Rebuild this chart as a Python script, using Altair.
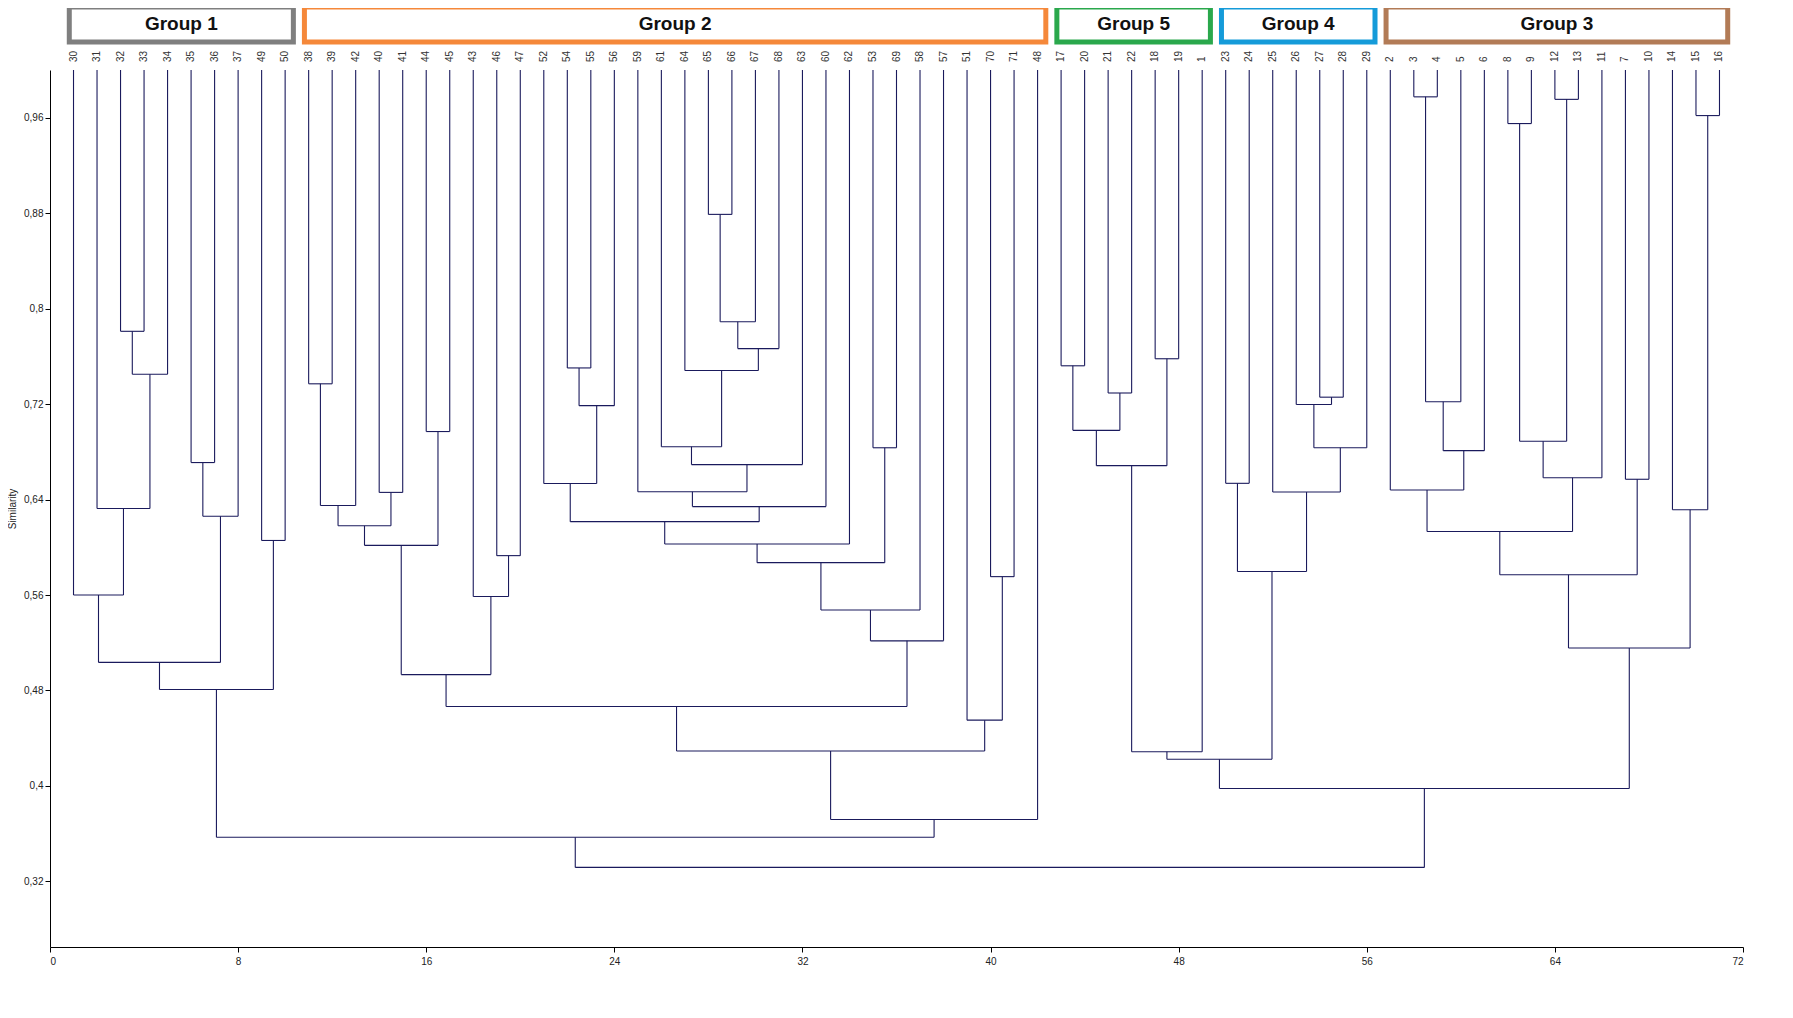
import altair as alt
import pandas as pd

# ---- data ----
leaf_order = ["30", "31", "32", "33", "34", "35", "36", "37", "49", "50",
              "38", "39", "42", "40", "41", "44", "45", "43", "46", "47",
              "52", "54", "55", "56", "59", "61", "64", "65", "66", "67",
              "68", "63", "60", "62", "53", "69", "58", "57", "51", "70",
              "71", "48",
              "17", "20", "21", "22", "18", "19", "1",
              "23", "24", "25", "26", "27", "28", "29",
              "2", "3", "4", "5", "6", "8", "9", "12", "13", "11", "7", "10",
              "14", "15", "16"]

# merges: children are leaf labels or "#k" (k-th merge), with similarity level
merge_a = ["32", "#0", "31", "30", "35", "#4", "49", "#3", "#7",
           "38", "#9", "40", "#10", "44", "#12", "46", "43", "#14",
           "54", "#18", "52", "65", "#21", "#22", "64", "61", "#25", "59", "#27",
           "#20", "#29", "53", "#30", "#32", "#33", "#17", "70", "51", "#35", "#38",
           "#8",
           "17", "21", "#41", "18", "#43", "#45",
           "23", "27", "26", "#49", "25", "#47", "#46",
           "3", "#54", "#55", "2", "8", "12", "#58", "#60", "#57", "7", "#62",
           "15", "14", "#64", "#53", "#40"]
merge_b = ["33", "34", "#1", "#2", "36", "37", "50", "#5", "#6",
           "39", "42", "41", "#11", "45", "#13", "47", "#15", "#16",
           "55", "56", "#19", "66", "67", "68", "#23", "#24", "63", "#26", "60",
           "#28", "62", "69", "#31", "58", "57", "#34", "71", "#36", "#37", "48",
           "#39",
           "20", "22", "#42", "19", "#44", "1",
           "24", "28", "#48", "29", "#50", "#51", "#52",
           "4", "5", "6", "#56", "9", "13", "#59", "11", "#61", "10", "#63",
           "16", "#65", "#66", "#67", "#68"]
merge_sim = [0.781, 0.745, 0.6325, 0.560, 0.671, 0.626, 0.6057, 0.5035, 0.4808,
             0.737, 0.635, 0.646, 0.618, 0.697, 0.6016, 0.593, 0.5587, 0.4933,
             0.7503, 0.7187, 0.6535, 0.879, 0.789, 0.7665, 0.7482, 0.6843, 0.6693,
             0.6465, 0.6341,
             0.6215, 0.6028, 0.6834, 0.5871, 0.5474, 0.5216, 0.4666, 0.5754, 0.4551,
             0.4293, 0.3719,
             0.357,
             0.7521, 0.7293, 0.698, 0.758, 0.6684, 0.4286,
             0.6536, 0.7258, 0.7196, 0.6834, 0.6463, 0.5797, 0.4224,
             0.9775, 0.722, 0.681, 0.648, 0.9551, 0.9754, 0.6888, 0.6583, 0.6132,
             0.657, 0.577,
             0.9618, 0.6315, 0.5156, 0.3978, 0.3317]

group_names = ["Group 1", "Group 2", "Group 5", "Group 4", "Group 3"]
group_first = ["30", "38", "17", "23", "2"]
group_last = ["50", "48", "1", "29", "16"]
group_colors = ["#7f7f7f", "#f5883a", "#2aa84c", "#159bd9", "#b27b56"]

x_ticks = list(range(0, 73, 8))
y_ticks = [0.32, 0.40, 0.48, 0.56, 0.64, 0.72, 0.80, 0.88, 0.96]
Y_MIN, Y_MAX = 0.265, 1.0

LINE = "#1a1a5c"

# ---- build dendrogram segments ----
pos = {lab: i + 1 for i, lab in enumerate(leaf_order)}
node_x = {lab: float(p) for lab, p in pos.items()}
node_h = {lab: Y_MAX for lab in leaf_order}
segs = []
for k, (a, b, h) in enumerate(zip(merge_a, merge_b, merge_sim)):
    xa, xb = node_x[a], node_x[b]
    segs.append({"x": xa, "x2": xa, "y": node_h[a], "y2": h})
    segs.append({"x": xb, "x2": xb, "y": node_h[b], "y2": h})
    segs.append({"x": xa, "x2": xb, "y": h, "y2": h})
    node_x["#%d" % k] = (xa + xb) / 2.0
    node_h["#%d" % k] = h
seg_df = pd.DataFrame(segs)

leaf_df = pd.DataFrame({"label": leaf_order, "pos": [pos[l] for l in leaf_order]})

grp_df = pd.DataFrame({
    "name": group_names,
    "x0": [pos[f] - 0.18 for f in group_first],
    "x1": [pos[l] + 0.35 for l in group_last],
})
grp_df["xc"] = (grp_df["x0"] + grp_df["x1"]) / 2.0

x_scale = alt.Scale(domain=[0, 72], nice=False, zero=False)
y_scale = alt.Scale(domain=[Y_MIN, Y_MAX], nice=False, zero=False)

lines = alt.Chart(seg_df).mark_rule(color=LINE, strokeWidth=1.1).encode(
    x=alt.X("x:Q", scale=x_scale, title=None,
            axis=alt.Axis(values=x_ticks, format="d", labelPadding=4)),
    x2="x2:Q",
    y=alt.Y("y:Q", scale=y_scale, title="Similarity",
            axis=alt.Axis(values=y_ticks,
                          labelExpr="replace(format(datum.value, '~g'), '.', ',')",
                          labelPadding=2, titlePadding=6, titleFontSize=10,
                          titleFontWeight="normal", titleColor="#222")),
    y2="y2:Q",
)

leaf_labels = alt.Chart(leaf_df).mark_text(
    angle=270, align="left", baseline="middle", fontSize=10,
    font="Liberation Sans", color="#333333"
).encode(
    x=alt.X("pos:Q", scale=x_scale, title=None),
    y=alt.value(-8),
    text="label:N",
)

boxes = alt.Chart(grp_df).mark_rect(fill="white", strokeWidth=5).encode(
    x=alt.X("x0:Q", scale=x_scale, title=None),
    x2="x1:Q",
    y=alt.value(-63),
    y2=alt.value(-28),
    stroke=alt.Color("name:N", scale=alt.Scale(domain=group_names, range=group_colors),
                     legend=None),
)

box_text = alt.Chart(grp_df).mark_text(
    fontSize=19, fontWeight="bold", font="Liberation Sans", color="#111111",
    baseline="middle", align="center"
).encode(
    x=alt.X("xc:Q", scale=x_scale, title=None),
    y=alt.value(-46),
    text="name:N",
)

chart = alt.layer(lines, leaf_labels, boxes, box_text).properties(
    width=1693, height=877,
    autosize=alt.AutoSizeParams(type="none"),
    padding={"left": 42, "top": 62, "right": 42, "bottom": 60},
).configure_view(stroke=None).configure_axis(
    grid=False, domainColor="black", tickColor="black", tickSize=5,
    labelColor="#222222", labelFont="Liberation Sans", labelFontSize=10,
    titleFont="Liberation Sans",
)

chart.save("out.html", embed_options={"renderer": "svg", "actions": False})
